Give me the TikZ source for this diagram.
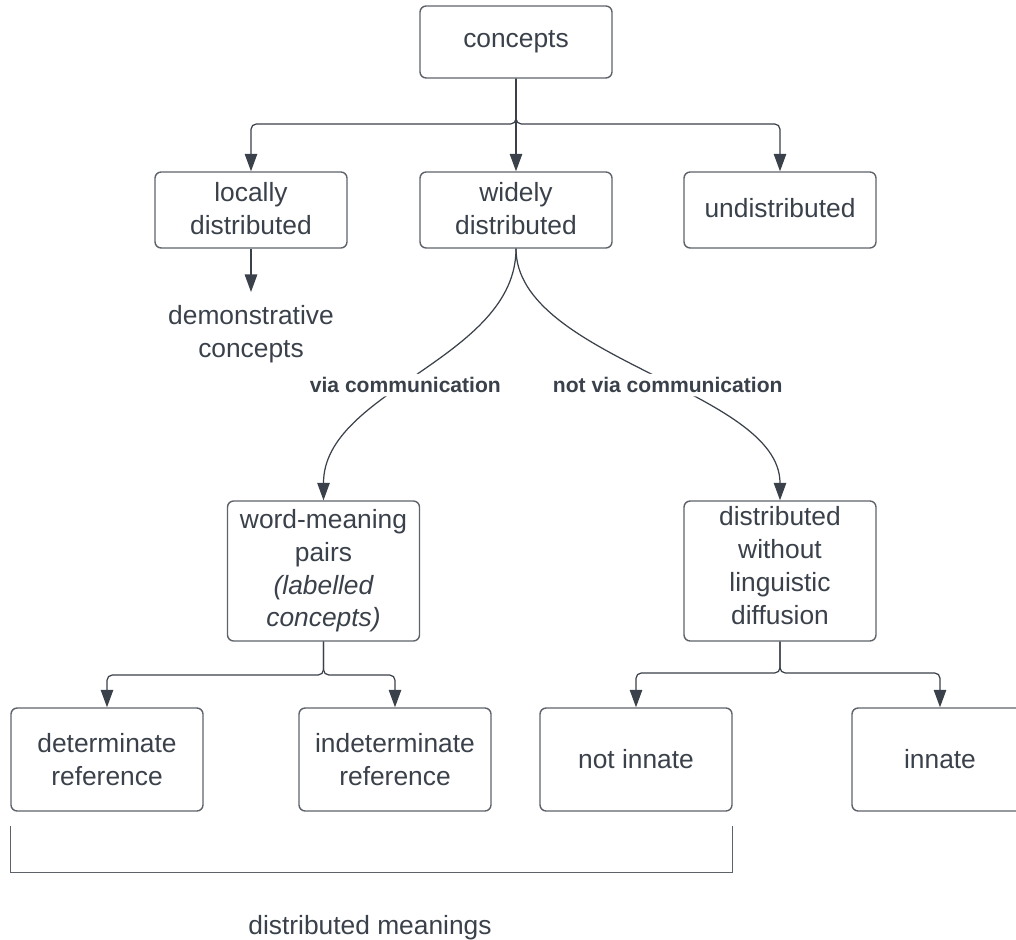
\documentclass[tikz,border=0pt]{standalone}
\usepackage{fontspec}
\setmainfont{Liberation Sans}
\usepackage{xcolor}
\usepackage{tikz}
\usetikzlibrary{positioning,calc,arrows.meta}
\definecolor{inktext}{HTML}{3A414A}
\definecolor{boxline}{HTML}{5E6369}
\definecolor{flowline}{HTML}{3A414A}
\tikzset{
  % --- concept boxes ---
  concept/.style={draw=boxline, line width=0.8pt, rounded corners=3.5pt,
                  align=center, text=inktext, fill=white,
                  font=\fontsize{15}{18.6}\selectfont,
                  minimum width=38.4mm, minimum height=15.2mm, inner sep=3pt},
  plaintext/.style={align=center, text=inktext,
                    font=\fontsize{15}{18.6}\selectfont},
  % --- connectors ---
  flow/.style={line width=0.7pt, draw=flowline, rounded corners=3pt,
               -{Triangle[length=3.5mm,width=2.5mm]}},
  edgelabel/.style={font=\fontsize{12}{14}\selectfont\bfseries, text=inktext,
                    fill=white, inner sep=2pt},
  bracket/.style={line width=0.7pt, draw=boxline},
}
\begin{document}
\begin{tikzpicture}
  \useasboundingbox (0,0) rectangle (20.32,-18.8);
  % top row
  \node[concept, minimum height=14.4mm] (concepts) at (10.32,-0.84) {concepts};
  \node[concept, text depth=0.4ex] (local)   at (5.02,-4.2)  {locally\\distributed};
  \node[concept, text depth=0.4ex] (wide)    at (10.32,-4.2) {widely\\distributed};
  \node[concept, text depth=0.4ex] (undist)  at (15.6,-4.2)  {undistributed};
  \node[plaintext, anchor=north, inner ysep=7.5pt] (demo) at (5.02,-5.84)
        {demonstrative\\concepts};

  % middle row
  \node[concept, minimum height=28mm] (wordpairs) at (6.47,-11.42)
        {word-meaning\\pairs\\\itshape(labelled\\\itshape concepts)};
  \node[concept, minimum height=28mm, text depth=1.2ex] (nodiff) at (15.6,-11.42)
        {distributed\\without\\linguistic\\diffusion};

  % bottom row
  \node[concept, minimum height=20.6mm] (det)    at (2.14,-15.19)  {determinate\\reference};
  \node[concept, minimum height=20.6mm] (indet)  at (7.9,-15.19)   {indeterminate\\reference};
  \node[concept, minimum height=20.6mm] (notinn) at (12.72,-15.19) {not innate};
  \node[concept, minimum height=20.6mm, minimum width=35.2mm] (innate) at (18.8,-15.19) {innate};

  % fork points
  \coordinate (fork1) at (10.32,-2.48);
  \coordinate (fork2) at (6.47,-13.5);
  \coordinate (fork3) at (15.6,-13.46);

  % branches from concepts
  \draw[flow] (concepts.south) -- (fork1) -| (local.north);
  \draw[flow] (concepts.south) -- (wide.north);
  \draw[flow] (concepts.south) -- (fork1) -| (undist.north);
  \draw[flow] (local.south) -- (demo.north);

  % widely distributed splits in two curves
  \draw[flow] (wide.south) .. controls +(0,-2.2) and +(0,2.2) .. (wordpairs.north)
        node[edgelabel, pos=0.55] {via communication};
  \draw[flow] (wide.south) .. controls +(0,-2.2) and +(0,2.2) .. (nodiff.north)
        node[edgelabel, pos=0.55] {not via communication};

  % lower forks
  \draw[flow] (wordpairs.south) -- (fork2) -| (det.north);
  \draw[flow] (wordpairs.south) -- (fork2) -| (indet.north);
  \draw[flow] (nodiff.south) -- (fork3) -| (notinn.north);
  \draw[flow] (nodiff.south) -- (fork3) -| (innate.north);

  % bracket under the distributed meanings
  \draw[bracket] ([yshift=-2.8mm]det.south west) -- ++(0,-0.94)
        -| ([yshift=-2.8mm]notinn.south east);
  \node[plaintext] (meanings) at (7.4,-18.56) {distributed meanings};
\end{tikzpicture}
\end{document}
